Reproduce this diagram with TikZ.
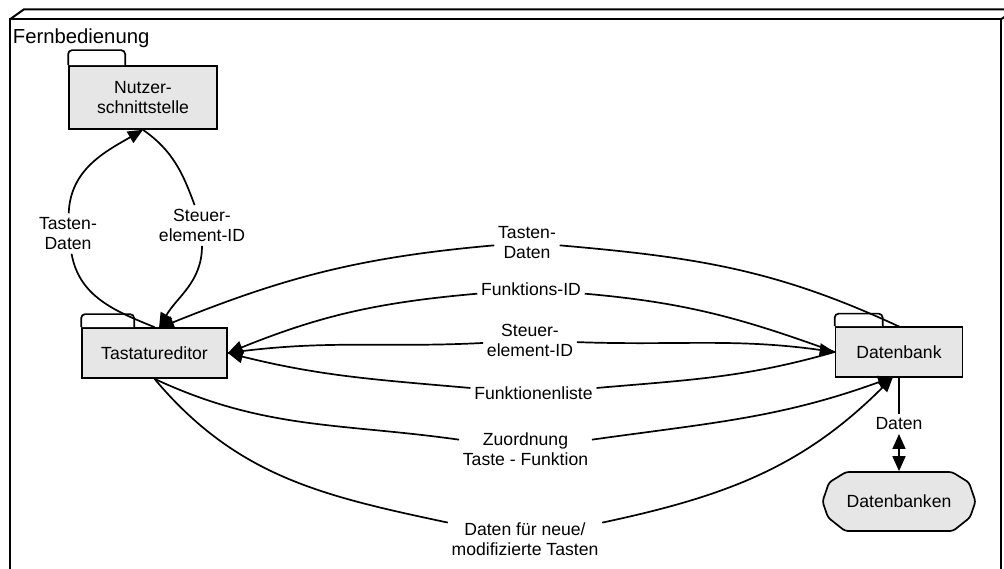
\documentclass[tikz,border=0pt]{standalone}
\usepackage{fontspec}
\setmainfont{Liberation Sans}
\usetikzlibrary{arrows.meta}
\definecolor{boxgray}{HTML}{E6E6E6}
% folder tab on top of a package box: #1 node, #2 tab width, #3 tab height
\newcommand\foldertab[3]{%
  \draw[fill=white, rounded corners=4pt] (#1.north west) -- ++(0,#3) -- ++(#2,0) -- ++(0,-#3);}
\begin{document}
\begin{tikzpicture}[x=1pt, y=1pt, line width=1.7pt,
  every node/.style={font=\fontsize{17.6}{20.5}\selectfont},
  pkg/.style={draw, fill=boxgray, inner sep=0pt, align=center},
  lbl/.style={inner xsep=3pt, inner ysep=3pt, align=center},
  tipA/.tip={Triangle[length=15pt, width=13pt]},
  flow/.style={-tipA},
  bothflow/.style={tipA-tipA}]

\useasboundingbox (0,0) rectangle (1004,569);

% outer subsystem node (3D box)
\begin{scope}
  \clip (0,0) rectangle (1004,569);
  \draw[line width=2.2pt, line join=miter]
    (10,-10) -- (10,549.7) -- (1001,549.7) -- (1001,-10);
  \draw[line width=2pt]
    (10,549.7) -- (24,559.7) -- (1016,559.7) -- (1001,549.7);
\end{scope}
\node[anchor=west, inner sep=0pt, font=\fontsize{20.3}{23}\selectfont]
  (sys) at (12,530.5) {Fernbedienung};

% packages
\node[pkg, minimum width=148pt, minimum height=63pt] (nu) at (143,471.5) {Nutzer-\\schnittstelle};
\foldertab{nu}{57}{15}
\node[pkg, minimum width=145pt, minimum height=50pt] (te) at (154.5,216) {Tastatureditor};
\foldertab{te}{53}{13}
\node[pkg, minimum width=127pt, minimum height=50pt] (db) at (899,217) {Datenbank};
\foldertab{db}{48}{12.5}

% data store
\begin{scope}[shift={(899,67.5)}]
  \draw[fill=boxgray, rounded corners=3pt]
    (-53,29.5) -- (53,29.5) -- (70,19) -- (76.5,0) -- (71,-16) -- (54,-29.5)
    -- (-54,-29.5) -- (-71,-16) -- (-76.5,0) -- (-70,19) -- cycle;
\end{scope}
\node[minimum width=153pt, minimum height=59pt, inner sep=0pt] (dk) at (899,67.5) {Datenbanken};

% meeting points of the flows
\coordinate (teN) at (159,241);
\coordinate (dbN) at (900,242);
\coordinate (dbS) at (893,192);

% labels
\node[lbl] (l1) at (68,335.5) {Tasten-\\Daten};
\node[lbl] (l2) at (202,343.5) {Steuer-\\element-ID};
\node[lbl] (l3) at (527,326.5) {Tasten-\\Daten};
\node[lbl] (l4) at (531,280) {Funktions-ID};
\node[lbl] (l5) at (530,228.5) {Steuer-\\element-ID};
\node[lbl] (l6) at (533.5,175.5) {Funktionenliste};
\node[lbl] (l7) at (525.5,120) {Zuordnung\\Taste - Funktion};
\node[lbl] (l8) at (525,30) {Daten für neue/\\modifizierte Tasten};
\node[lbl] (l9) at (899,145) {Daten};

% flows
\draw[flow] (te.north) to[out=158,in=-80] (l1) to[out=88,in=210] (nu.south);
\draw[flow] (nu.south) to[out=-35,in=110] (l2) to[out=-90,in=60] (teN);
\draw[flow] (dbN) to[out=155,in=-5] (l3) to[out=185,in=22] (teN);
\draw[flow] (db.west) to[out=160,in=-5] (l4) to[out=185,in=22] (te.east);
\draw[flow] (te.east) to[out=8,in=183] (l5) to[out=-2,in=172] (db.west);
\draw[flow] (db.west) to[out=196,in=5] (l6) to[out=175,in=-14] (te.east);
\draw[flow] (te.south) to[out=-25,in=172] (l7) to[out=8,in=200] (dbS);
\draw[flow] (te.south) to[out=-50,in=168] (l8) to[out=12,in=225] (dbS);
\draw[bothflow] (db.south) -- (l9) -- (dk.north);

\end{tikzpicture}
\end{document}
